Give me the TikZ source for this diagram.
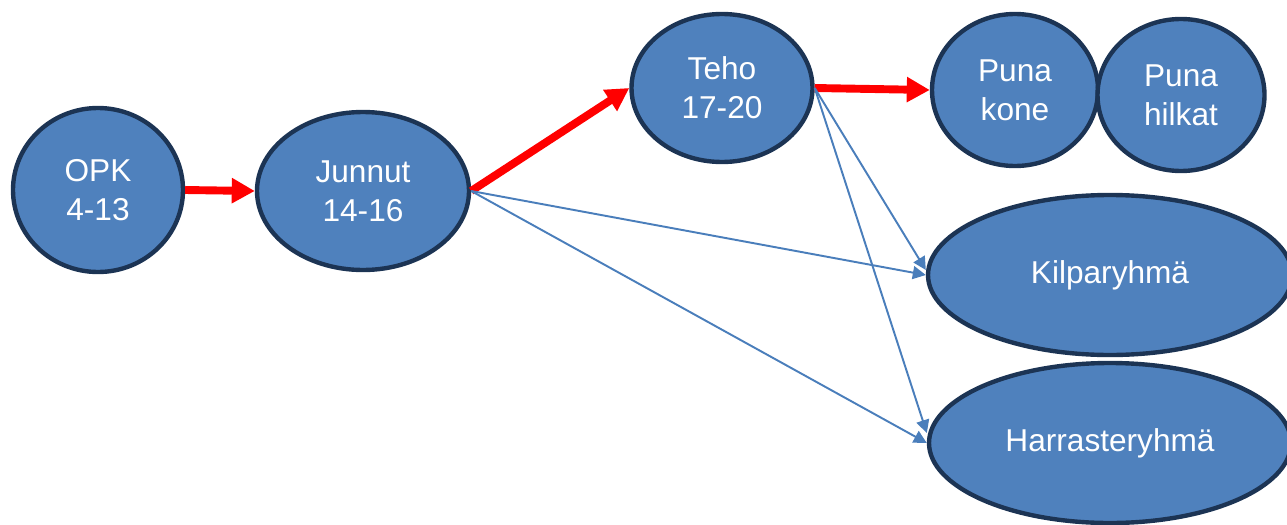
\documentclass[tikz,border=0pt]{standalone}
\usepackage{fontspec}
\setmainfont{Liberation Sans}
\usetikzlibrary{shapes.geometric,arrows.meta}
\definecolor{nodefill}{HTML}{4F81BD}
\definecolor{nodeline}{HTML}{1C3454}
\definecolor{linkblue}{HTML}{4A7EBB}
\begin{document}
\begin{tikzpicture}[x=0.02cm,y=-0.02cm,
  blob/.style={ellipse,draw=nodeline,fill=nodefill,line width=2.5pt,inner sep=0pt,
    text=white,align=center,font=\fontsize{18}{22}\selectfont},
  mainlink/.style={draw=red,line width=4.5pt,-{Triangle[length=0.46cm,width=0.48cm]}},
  sidelink/.style={draw=linkblue,line width=1.1pt,-{Triangle[length=0.26cm,width=0.26cm]}}]
\useasboundingbox (0,0) rectangle (1287,524);
\clip (0,0) rectangle (1287,524);
\node[blob,minimum width=170*0.02cm,minimum height=164*0.02cm] (opk) at (98,190) {OPK\\4-13};
\node[blob,minimum width=212*0.02cm,minimum height=158*0.02cm] (jun) at (363,191) {Junnut\\14-16};
\node[blob,minimum width=181*0.02cm,minimum height=148*0.02cm] (teho) at (722,88) {Teho\\17-20};
\node[blob,minimum width=166*0.02cm,minimum height=152*0.02cm] (kone) at (1015,90) {Puna\\kone};
\node[blob,minimum width=167*0.02cm,minimum height=152*0.02cm] (hilk) at (1181,95) {Puna\\hilkat};
\node[blob,minimum width=364*0.02cm,minimum height=160*0.02cm] (kil) at (1110,275) {Kilparyhmä};
\node[blob,minimum width=362*0.02cm,minimum height=160*0.02cm] (har) at (1110,443) {Harrasteryhmä};
\draw[mainlink] (opk.east) -- (jun.west);
\draw[mainlink] (jun.east) -- (teho.west);
\draw[mainlink] (teho.east) -- (kone.west);
\draw[sidelink] (jun.east) -- (kil.west);
\draw[sidelink] (jun.east) -- (har.west);
\draw[sidelink] (teho.east) -- ([yshift=0.1cm]kil.west);
\draw[sidelink] (teho.east) -- ([yshift=0.2cm]har.west);
\end{tikzpicture}
\end{document}
